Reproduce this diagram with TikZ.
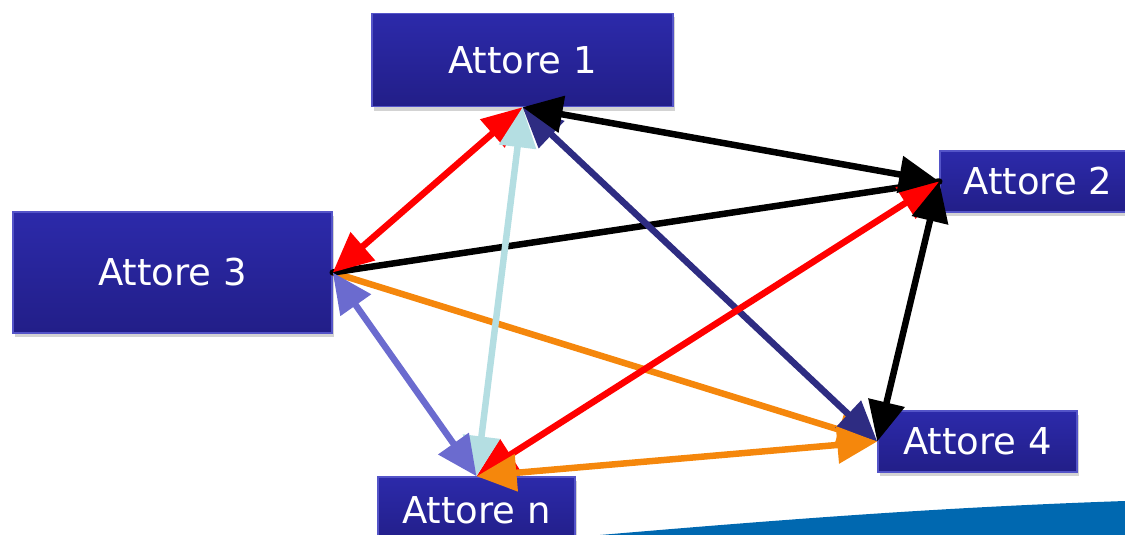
\documentclass[tikz,border=0pt]{standalone}
\usepackage{fontspec}
\setmainfont{DejaVu Sans}
\usetikzlibrary{arrows.meta,shadows}
\definecolor{boxtop}{RGB}{44,42,170}
\definecolor{boxbot}{RGB}{34,30,136}
\definecolor{boxrim}{RGB}{84,84,200}
\definecolor{navy}{RGB}{46,44,130}
\definecolor{paleblue}{RGB}{180,222,226}
\definecolor{lilac}{RGB}{107,107,207}
\definecolor{amber}{RGB}{245,135,12}
\definecolor{swoosh}{RGB}{0,104,176}

\begin{document}
\begin{tikzpicture}
[ x=1pt, y=-1pt
, actor/.style={rectangle, inner sep=0pt, top color=boxtop, bottom color=boxbot, draw=boxrim, line width=1.5pt, text=white, font=\fontsize{37}{40}\selectfont, drop shadow={shadow xshift=2pt, shadow yshift=-4pt, opacity=0.35}}
, link/.style={line width=6.5pt}
, tips/.style={{Triangle[length=40pt,width=36pt]}-{Triangle[length=40pt,width=36pt]}}
, tip/.style={-{Triangle[length=40pt,width=36pt]}}
]
\useasboundingbox (0,0) rectangle (1125,535);
\fill [swoosh] (600,535) .. controls (800,518) and (950,507) .. (1125,501) -- (1125,535) -- cycle;
% the actors
\node (a1) [actor, minimum width=301pt, minimum height=93pt] at (522.5,60) {Attore 1};
\node (a2) [actor, minimum width=196pt, minimum height=61pt] at (1038,181.5) {Attore 2};
\node (a3) [actor, minimum width=319pt, minimum height=121pt] at (172.5,272.5) {Attore 3};
\node (a4) [actor, minimum width=199pt, minimum height=61pt] at (977.5,441.5) {Attore 4};
\node (an) [actor, minimum width=197pt, minimum height=66pt] at (476.5,510) {Attore n};
% the links
\draw [link, amber, tip] (a3.east) -- (a4.west);
\draw [link, black, line cap=round] (a3.east) -- (a2.west);
\draw [link, navy, tips] (a1.south) -- (a4.west);
\draw [link, red, tips] (a1.south) -- (a3.east);
\draw [link, red, tips] (an.north) -- (a2.west);
\draw [link, paleblue, tips] (a1.south) -- (an.north);
\draw [link, lilac, tips] (a3.east) -- (an.north);
\draw [link, amber, tips] (an.north) -- (a4.west);
\draw [link, black, tips] (a1.south) -- (a2.west);
\draw [link, black, tips] (a2.west) -- (a4.west);
\end{tikzpicture}
\end{document}
